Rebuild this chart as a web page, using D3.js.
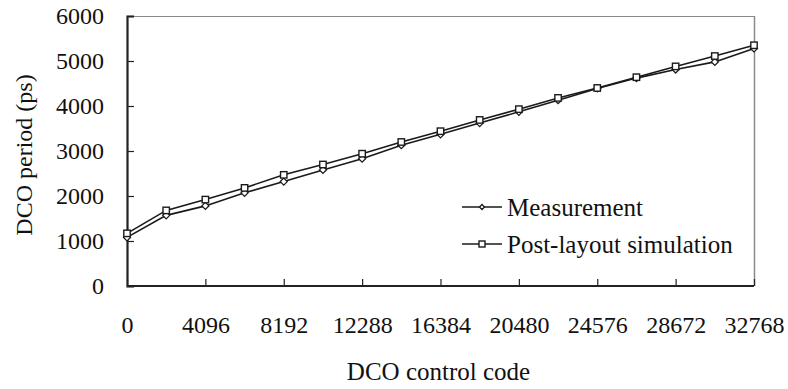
<!DOCTYPE html>
<html>
<head>
<meta charset="utf-8">
<script src="https://cdn.jsdelivr.net/npm/d3@7"></script>
<style>
  html, body { margin: 0; padding: 0; background: #fff; }
  svg { display: block; }
  text { font-family: "Liberation Serif", "Times New Roman", serif; fill: #111; }
</style>
</head>
<body>
<svg id="chart" width="788" height="389"></svg>
<script>
// ---- data ----
const codes = [0, 2048, 4096, 6144, 8192, 10240, 12288, 14336, 16384, 18432, 20480, 22528, 24576, 26624, 28672, 30720, 32768];
const measurement = [1080, 1570, 1780, 2070, 2320, 2580, 2830, 3130, 3370, 3620, 3870, 4130, 4390, 4620, 4810, 4980, 5280];
const postLayout = [1170, 1680, 1920, 2180, 2470, 2700, 2940, 3200, 3440, 3690, 3930, 4180, 4400, 4640, 4880, 5110, 5350];
const xTicks = [0, 4096, 8192, 12288, 16384, 20480, 24576, 28672, 32768];
const yTicks = [0, 1000, 2000, 3000, 4000, 5000, 6000];
const seriesNames = ["Measurement", "Post-layout simulation"];
const xTitle = "DCO control code";
const yTitle = "DCO period (ps)";

// ---- layout ----
const svg = d3.select("#chart");
const L = 127, R = 754, T = 16, B = 286;
const x = d3.scaleLinear().domain([0, 32768]).range([L, R]);
const y = d3.scaleLinear().domain([0, 6000]).range([B, T]);

// frame (top & right)
svg.append("line").attr("x1", L).attr("x2", R).attr("y1", T + 0.5).attr("y2", T + 0.5)
  .attr("stroke", "#8a8a8a").attr("stroke-width", 1);
svg.append("line").attr("x1", R + 0.5).attr("x2", R + 0.5).attr("y1", T).attr("y2", B)
  .attr("stroke", "#8a8a8a").attr("stroke-width", 1.5);

// y axis
const yAxis = d3.axisLeft(y).tickValues(yTicks).tickSize(-7).tickPadding(23).tickFormat(d3.format("d"));
const gy = svg.append("g").attr("transform", `translate(${L},0)`).call(yAxis);
gy.select(".domain").attr("stroke", "#222").attr("stroke-width", 2.2);
gy.selectAll(".tick line").attr("stroke", "#222").attr("stroke-width", 1.2);
gy.selectAll(".tick text").attr("font-size", 24).attr("font-family", "Liberation Serif").attr("fill", "#111");

// x axis
const xAxis = d3.axisBottom(x).tickValues(xTicks).tickSize(-7).tickPadding(0).tickFormat(d3.format("d"));
const gx = svg.append("g").attr("transform", `translate(0,${B})`).call(xAxis);
gx.select(".domain").attr("stroke", "#222").attr("stroke-width", 2.2);
gx.selectAll(".tick line").attr("stroke", "#222").attr("stroke-width", 1.2);
gx.selectAll(".tick text").attr("font-size", 24).attr("font-family", "Liberation Serif").attr("fill", "#111")
  .attr("dy", null).attr("y", 47);
gx.selectAll(".domain").attr("d", `M${L},0H${R}`);

// titles
svg.append("text").attr("x", (L + R) / 2 - 2).attr("y", 380).attr("text-anchor", "middle")
  .attr("font-size", 25).text(xTitle);
svg.append("text").attr("transform", `translate(32,${(T + B) / 2 + 4}) rotate(-90)`)
  .attr("text-anchor", "middle").attr("font-size", 24).text(yTitle);

// lines
const line = d3.line().x((d, i) => x(codes[i])).y(d => y(d));
const data = [measurement, postLayout];
data.forEach(s => {
  svg.append("path").datum(s).attr("d", line).attr("fill", "none")
    .attr("stroke", "#1a1a1a").attr("stroke-width", 1.6);
});

// markers
function diamond(g, cx, cy, r) {
  g.append("path").attr("d", `M${cx},${cy - r}L${cx + r},${cy}L${cx},${cy + r}L${cx - r},${cy}Z`)
    .attr("fill", "#fff").attr("stroke", "#1a1a1a").attr("stroke-width", 1.3);
}
function square(g, cx, cy, h) {
  g.append("rect").attr("x", cx - h).attr("y", cy - h).attr("width", 2 * h).attr("height", 2 * h)
    .attr("fill", "#fff").attr("stroke", "#1a1a1a").attr("stroke-width", 1.4);
}
const gm = svg.append("g");
measurement.forEach((v, i) => diamond(gm, x(codes[i]), y(v), 3.5));
postLayout.forEach((v, i) => square(gm, x(codes[i]), y(v), 3.2));

// legend
const lg = svg.append("g");
const legY = [207, 244];
seriesNames.forEach((name, i) => {
  lg.append("line").attr("x1", 462).attr("x2", 502).attr("y1", legY[i]).attr("y2", legY[i])
    .attr("stroke", "#1a1a1a").attr("stroke-width", 1.6);
  if (i === 0) diamond(lg, 482, legY[i], 2.5); else square(lg, 482, legY[i], 3);
  lg.append("text").attr("x", 507).attr("y", legY[i] + 8.5).attr("font-size", 25).text(name);
});
</script>
</body>
</html>
